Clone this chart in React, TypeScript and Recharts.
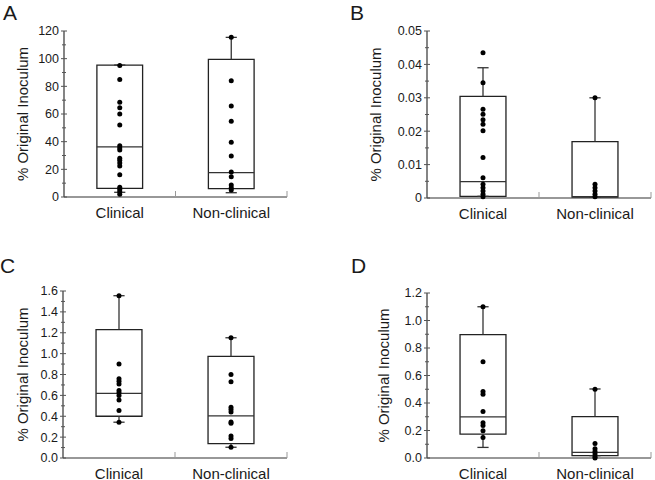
import React from 'react';
import { ScatterChart, Scatter, XAxis, YAxis, ReferenceArea, ReferenceLine } from 'recharts';

const FONT = '"Liberation Sans", Arial, sans-serif';
const INK = '#1a1a1a';

const categories = ['Clinical', 'Non-clinical'];

// Panel A
const aClinical = [95, 85, 68.5, 64.5, 60, 52, 37, 35.5, 34, 28, 26.5, 24.5, 22.5, 16, 7, 5.5, 3.8, 2];
const aNonClinical = [115.4, 84, 65.8, 54.7, 39.5, 29.6, 18, 14.7, 8.7, 6.7, 5];
const aQ1 = [6.3, 6];
const aMedian = [36.2, 17.6];
const aQ3 = [95.4, 99.5];
const aLow = [3.4, 3.1];
const aHigh = [95.4, 115.4];
const aTicks = [0, 10, 20, 30, 40, 50, 60, 70, 80, 90, 100, 110, 120];
const aLabels = [0, 20, 40, 60, 80, 100, 120];

// Panel B
const bClinical = [0.0435, 0.0345, 0.0266, 0.0251, 0.0234, 0.0221, 0.0201, 0.0121, 0.0061, 0.0041, 0.0031, 0.0021, 0.0011, 0.0004];
const bNonClinical = [0.03, 0.0041, 0.0031, 0.0021, 0.0011, 0.0004];
const bQ1 = [0.0005, 0.0003];
const bMedian = [0.0049, 0.0004];
const bQ3 = [0.0304, 0.0169];
const bLow = [0.0005, 0.0003];
const bHigh = [0.039, 0.03];
const bTicks = [0, 0.005, 0.01, 0.015, 0.02, 0.025, 0.03, 0.035, 0.04, 0.045, 0.05];
const bLabels = [0, 0.01, 0.02, 0.03, 0.04, 0.05];

// Panel C
const cClinical = [1.555, 0.9, 0.76, 0.736, 0.71, 0.647, 0.624, 0.6, 0.556, 0.455, 0.343];
const cNonClinical = [1.152, 0.8, 0.73, 0.487, 0.464, 0.44, 0.346, 0.333, 0.211, 0.186, 0.103];
const cQ1 = [0.4, 0.138];
const cMedian = [0.62, 0.403];
const cQ3 = [1.23, 0.973];
const cLow = [0.343, 0.103];
const cHigh = [1.555, 1.152];
const cTicks = [0, 0.1, 0.2, 0.3, 0.4, 0.5, 0.6, 0.7, 0.8, 0.9, 1.0, 1.1, 1.2, 1.3, 1.4, 1.5, 1.6];
const cLabels = [0, 0.2, 0.4, 0.6, 0.8, 1.0, 1.2, 1.4, 1.6];

// Panel D
const dClinical = [1.1, 0.7, 0.483, 0.464, 0.338, 0.256, 0.236, 0.198, 0.149];
const dNonClinical = [0.5, 0.106, 0.067, 0.048, 0.029, 0.01, 0.0];
const dQ1 = [0.174, 0.017];
const dMedian = [0.299, 0.041];
const dQ3 = [0.898, 0.301];
const dLow = [0.077, 0.017];
const dHigh = [1.1, 0.502];
const dTicks = [0, 0.1, 0.2, 0.3, 0.4, 0.5, 0.6, 0.7, 0.8, 0.9, 1.0, 1.1, 1.2];
const dLabels = [0, 0.2, 0.4, 0.6, 0.8, 1.0, 1.2];

const BOX_HALF = 0.205;
const CAP_HALF = 0.05;

const panels = [
  {
    letter: 'A', left: 0, top: 0, width: 300, height: 235,
    margin: { top: 31, right: 13, bottom: 0, left: 0 }, yWidth: 64, xHeight: 38, titleOffset: 41,
    points: [aClinical, aNonClinical], q1: aQ1, median: aMedian, q3: aQ3, low: aLow, high: aHigh,
    domain: [0, 120], ticks: aTicks, labels: aLabels, fmt: (v: number) => String(v),
    letterPos: { left: 3, top: 2 },
  },
  {
    letter: 'B', left: 330, top: 0, width: 325, height: 235,
    margin: { top: 31, right: 4, bottom: 0, left: 0 }, yWidth: 97, xHeight: 37, titleOffset: 51,
    points: [bClinical, bNonClinical], q1: bQ1, median: bMedian, q3: bQ3, low: bLow, high: bHigh,
    domain: [0, 0.05], ticks: bTicks, labels: bLabels, fmt: (v: number) => (v === 0 ? '0' : v.toFixed(2)),
    letterPos: { left: 350, top: 2 },
  },
  {
    letter: 'C', left: 0, top: 240, width: 300, height: 240,
    margin: { top: 51, right: 13, bottom: 0, left: 0 }, yWidth: 63, xHeight: 22, titleOffset: 40,
    points: [cClinical, cNonClinical], q1: cQ1, median: cMedian, q3: cQ3, low: cLow, high: cHigh,
    domain: [0, 1.6], ticks: cTicks, labels: cLabels, fmt: (v: number) => v.toFixed(1),
    letterPos: { left: 0, top: 255 },
  },
  {
    letter: 'D', left: 330, top: 240, width: 325, height: 240,
    margin: { top: 53, right: 4, bottom: 0, left: 0 }, yWidth: 97, xHeight: 22, titleOffset: 43,
    points: [dClinical, dNonClinical], q1: dQ1, median: dMedian, q3: dQ3, low: dLow, high: dHigh,
    domain: [0, 1.2], ticks: dTicks, labels: dLabels, fmt: (v: number) => v.toFixed(1),
    letterPos: { left: 351, top: 255 },
  },
];

const Dot = (props: any) => <circle cx={props.cx} cy={props.cy} r={2.5} fill="#000" />;

function BoxPanel({ p }: { p: any }) {
  const data = p.points.flatMap((vals: number[], i: number) => vals.map((v) => ({ x: i + 0.5, y: v })));
  const plotH = p.height - p.margin.top - p.margin.bottom - p.xHeight;

  const yTick = (props: any) => {
    const { x, y, payload } = props;
    const v = payload.value;
    const major = p.labels.includes(v);
    const ax = x + 5;
    return (
      <g>
        <line x1={ax - (major ? 3 : 2)} x2={ax + (major ? 3 : 2)} y1={y} y2={y} stroke="#555" strokeWidth={1} />
        {major && (
          <text x={x} y={y} dy="0.35em" textAnchor="end" fontSize={12.5} fontFamily={FONT} fill={INK}>
            {p.fmt(v)}
          </text>
        )}
      </g>
    );
  };

  const xTick = (props: any) => {
    const { x, y, payload } = props;
    const v = payload.value;
    if (v === 0.5 || v === 1.5) {
      return (
        <text x={x} y={y + 12.5} textAnchor="middle" fontSize={15} fontFamily={FONT} fill={INK}>
          {categories[Math.floor(v)]}
        </text>
      );
    }
    return <line x1={x} x2={x} y1={y - 8} y2={y - 14} stroke="#999" strokeWidth={1} />;
  };

  const title = () => (
    <text
      x={p.yWidth - p.titleOffset}
      y={p.margin.top + plotH / 2}
      dy="0.35em"
      textAnchor="middle"
      transform={`rotate(-90 ${p.yWidth - p.titleOffset} ${p.margin.top + plotH / 2})`}
      fontSize={15}
      fontFamily={FONT}
      fill={INK}
    >
      % Original Inoculum
    </text>
  );

  return (
    <div style={{ position: 'absolute', left: p.left, top: p.top }}>
      <ScatterChart width={p.width} height={p.height} margin={p.margin}>
        <XAxis
          type="number"
          dataKey="x"
          domain={[0, 2]}
          ticks={[0.5, 1, 1.5, 2]}
          interval={0}
          height={p.xHeight}
          tickSize={0}
          tickMargin={8}
          tickLine={false}
          tick={xTick}
          axisLine={{ stroke: '#333', strokeWidth: 1.2 }}
        />
        <YAxis
          type="number"
          dataKey="y"
          domain={p.domain}
          ticks={p.ticks}
          interval={0}
          width={p.yWidth}
          tickSize={0}
          tickMargin={5}
          tickLine={false}
          tick={yTick}
          axisLine={{ stroke: '#333', strokeWidth: 1.2 }}
          label={title}
        />
        {categories.map((c, i) => (
          <ReferenceArea
            key={'box' + c}
            x1={i + 0.5 - BOX_HALF}
            x2={i + 0.5 + BOX_HALF}
            y1={p.q1[i]}
            y2={p.q3[i]}
            fill="none"
            stroke="#222"
            strokeWidth={1.3}
          />
        ))}
        {categories.map((c, i) => (
          <ReferenceLine
            key={'med' + c}
            segment={[{ x: i + 0.5 - BOX_HALF, y: p.median[i] }, { x: i + 0.5 + BOX_HALF, y: p.median[i] }]}
            stroke="#333"
            strokeWidth={1.3}
          />
        ))}
        {categories.map((c, i) => (
          <ReferenceLine
            key={'wh' + c}
            segment={[{ x: i + 0.5, y: p.q3[i] }, { x: i + 0.5, y: p.high[i] }]}
            stroke="#333"
            strokeWidth={1.3}
          />
        ))}
        {categories.map((c, i) => (
          <ReferenceLine
            key={'wl' + c}
            segment={[{ x: i + 0.5, y: p.q1[i] }, { x: i + 0.5, y: p.low[i] }]}
            stroke="#333"
            strokeWidth={1.3}
          />
        ))}
        {categories.map((c, i) => (
          <ReferenceLine
            key={'ch' + c}
            segment={[{ x: i + 0.5 - CAP_HALF, y: p.high[i] }, { x: i + 0.5 + CAP_HALF, y: p.high[i] }]}
            stroke="#333"
            strokeWidth={1.3}
          />
        ))}
        {categories.map((c, i) => (
          <ReferenceLine
            key={'cl' + c}
            segment={[{ x: i + 0.5 - CAP_HALF, y: p.low[i] }, { x: i + 0.5 + CAP_HALF, y: p.low[i] }]}
            stroke="#333"
            strokeWidth={1.3}
          />
        ))}
        <Scatter data={data} shape={Dot} isAnimationActive={false} />
      </ScatterChart>
    </div>
  );
}

export default function App() {
  return (
    <div style={{ position: 'absolute', left: 0, top: 0, width: 655, height: 480, background: '#fff' }}>
      {panels.map((p) => (
        <React.Fragment key={p.letter}>
          <BoxPanel p={p} />
          <div
            style={{
              position: 'absolute',
              left: p.letterPos.left,
              top: p.letterPos.top,
              fontFamily: FONT,
              fontSize: 21,
              lineHeight: 1,
              color: INK,
            }}
          >
            {p.letter}
          </div>
        </React.Fragment>
      ))}
    </div>
  );
}
